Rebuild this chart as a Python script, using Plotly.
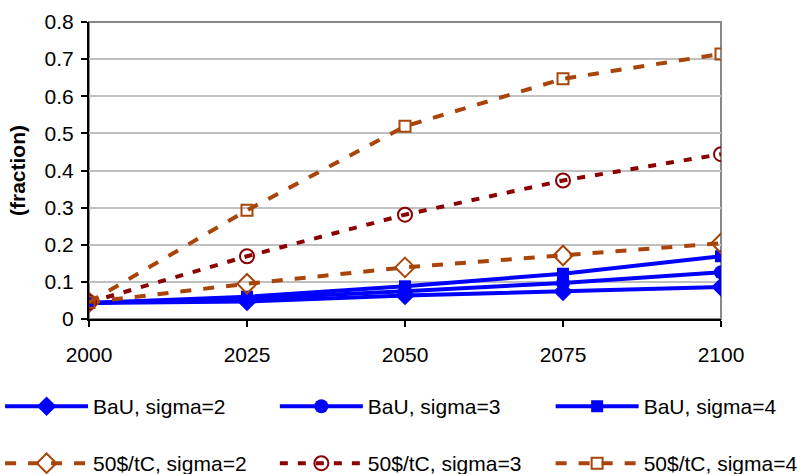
import plotly.graph_objects as go

years = [2000, 2025, 2050, 2075, 2100]
bau_s2 = [0.043, 0.047, 0.063, 0.074, 0.086]
bau_s3 = [0.043, 0.055, 0.075, 0.097, 0.126]
bau_s4 = [0.043, 0.060, 0.088, 0.122, 0.169]
tax_s2 = [0.045, 0.095, 0.139, 0.171, 0.204]
tax_s3 = [0.045, 0.169, 0.281, 0.373, 0.444]
tax_s4 = [0.045, 0.293, 0.519, 0.647, 0.714]

names = ["BaU, sigma=2", "BaU, sigma=3", "BaU, sigma=4",
         "50$/tC, sigma=2", "50$/tC, sigma=3", "50$/tC, sigma=4"]
y_ticks = [0, 0.1, 0.2, 0.3, 0.4, 0.5, 0.6, 0.7, 0.8]
y_tick_text = ["0", "0.1", "0.2", "0.3", "0.4", "0.5", "0.6", "0.7", "0.8"]

BLUE = "#0000FF"
ORANGE = "#A8450A"
DARKRED = "#8B0000"
FONT = "Arial, Liberation Sans, sans-serif"

series = [
    (bau_s2, BLUE, "solid", "diamond", 15, 0),
    (bau_s3, BLUE, "solid", "circle", 14, 0),
    (bau_s4, BLUE, "solid", "square", 12, 0),
    (tax_s2, ORANGE, "11px,12px", "diamond-open", 15, 2),
    (tax_s3, DARKRED, "8px,10px", "circle-open", 14, 2),
    (tax_s4, ORANGE, "11px,12px", "square-open", 11, 2),
]

fig = go.Figure()
legend_ids = ["legend", "legend2", "legend3", "legend4", "legend5", "legend6"]
for i, (vals, col, dash, sym, sz, lw) in enumerate(series):
    fig.add_trace(go.Scatter(
        x=years, y=vals, name=names[i], mode="lines+markers",
        line=dict(color=col, width=4, dash=dash),
        marker=dict(symbol=sym, size=sz, color=col,
                    line=dict(color=col, width=lw)),
        legend=legend_ids[i],
    ))

# plot area: left 89, right 721.5, top 22, bottom 319.3
L, R, T, B = 89, 721.5, 22, 319.3
W, H = 797, 474
pw, ph = R - L, B - T

layout_legends = {}
col_px = [0, 275, 551]
row_px = [407, 464]
for i, lid in enumerate(legend_ids):
    r, c = divmod(i, 3)
    layout_legends[lid] = dict(
        x=(col_px[c] - L) / pw, xanchor="left",
        y=(B - row_px[r]) / ph, yanchor="middle",
        orientation="h", itemwidth=83,
        font=dict(family=FONT, size=21, color="#000000"),
        bgcolor="rgba(0,0,0,0)", borderwidth=0,
        itemclick=False, itemdoubleclick=False,
    )

fig.update_layout(
    width=W, height=H,
    margin=dict(l=L, r=W - R, t=T, b=H - B, pad=0, autoexpand=False),
    paper_bgcolor="white", plot_bgcolor="white",
    font=dict(family=FONT, size=21, color="#000000"),
    showlegend=True,
    **layout_legends,
    xaxis=dict(
        range=[2000, 2100], tickmode="array", tickvals=years,
        ticktext=[str(y) for y in years],
        showgrid=False, zeroline=False, automargin=False,
        showline=True, linecolor="#000000", linewidth=2,
        ticks="outside", ticklen=6, tickwidth=1.5, tickcolor="#000000",
        tickfont=dict(family=FONT, size=21),
        ticklabelstandoff=10,
    ),
    yaxis=dict(
        range=[0, 0.8], tickmode="array", tickvals=y_ticks, ticktext=y_tick_text,
        showgrid=True, gridcolor="#C0C0C0", gridwidth=1.5,
        zeroline=False, automargin=False,
        showline=True, linecolor="#000000", linewidth=2,
        ticks="outside", ticklen=6, tickwidth=1.5, tickcolor="#000000",
        tickfont=dict(family=FONT, size=21),
        ticklabelstandoff=3,
        title=dict(text="<b>(fraction)</b>", font=dict(family=FONT, size=21),
                   standoff=13),
    ),
    shapes=[dict(type="rect", xref="paper", yref="paper", x0=0, x1=1, y0=0, y1=1,
                 line=dict(color="#888888", width=2), layer="below")],
)

fig.write_html("out.html", config={"displayModeBar": False},
               post_script="document.body.style.margin='0';document.body.style.padding='0';")
